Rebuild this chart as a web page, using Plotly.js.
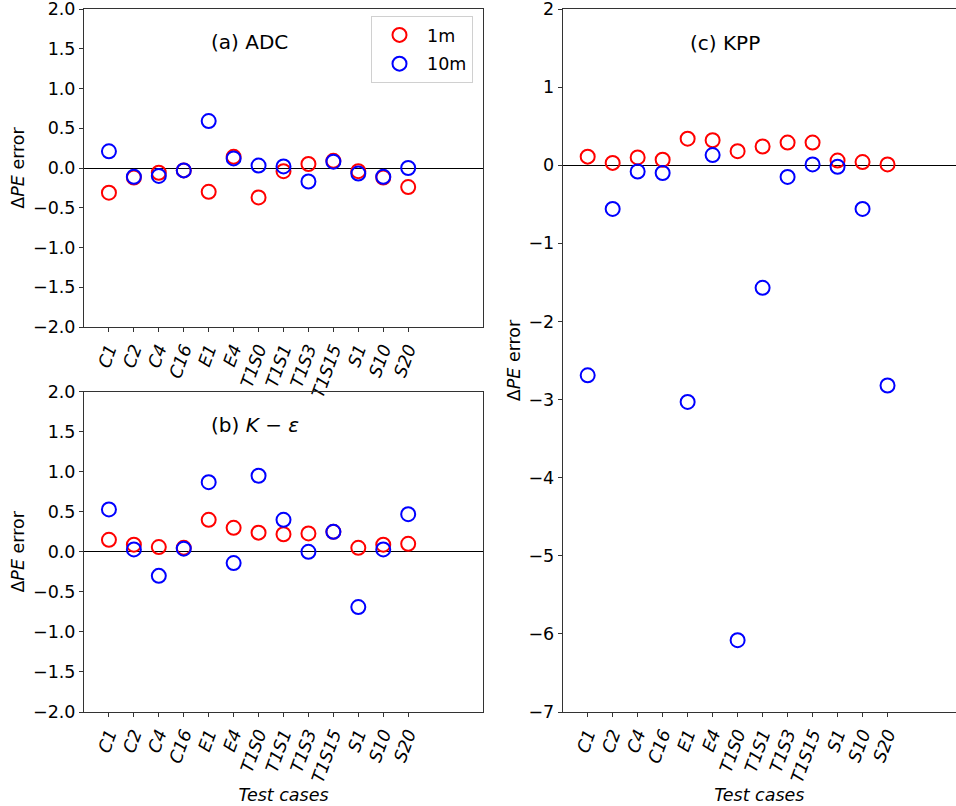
<!DOCTYPE html>
<html>
<head>
<meta charset="utf-8">
<script src="https://cdn.plot.ly/plotly-3.0.1.min.js"></script>
<style>html,body{margin:0;padding:0;background:#fff;}#chart{width:956px;height:806px;}</style>
</head>
<body>
<div id="chart"></div>
<script>
const categories = ['C1','C2','C4','C16','E1','E4','T1S0','T1S1','T1S3','T1S15','S1','S10','S20'];
const tickLabels = categories.map(c => '<i>' + c + '</i>');
const adc1m  = [-0.31,-0.12,-0.06,-0.03,-0.30,0.14,-0.37,-0.04,0.05,0.09,-0.04,-0.12,-0.24];
const adc10m = [0.21,-0.11,-0.10,-0.03,0.59,0.12,0.03,0.02,-0.17,0.08,-0.07,-0.11,0.00];
const ke1m   = [0.15,0.09,0.06,0.05,0.40,0.30,0.24,0.22,0.23,0.25,0.05,0.09,0.10];
const ke10m  = [0.53,0.03,-0.30,0.04,0.87,-0.14,0.95,0.40,0.00,0.25,-0.69,0.03,0.47];
const kpp1m  = [0.11,0.03,0.10,0.07,0.34,0.32,0.18,0.24,0.29,0.29,0.06,0.04,0.01];
const kpp10m = [-2.69,-0.56,-0.08,-0.10,-3.03,0.13,-6.08,-1.57,-0.15,0.01,-0.02,-0.56,-2.82];
const seriesNames = ['1m','10m'];
const seriesColors = ['#ff0000','#0000ff'];

const W = 956, H = 806;
const FONT = 'DejaVu Sans';
const FS = 17.5;
const SP = '#333';

function mk(y, i, xa, ya, show) {
  return {
    type: 'scatter', mode: 'markers', x: categories, y: y,
    xaxis: xa, yaxis: ya, name: seriesNames[i], showlegend: show, legendgroup: 'g' + i,
    marker: {symbol: 'circle-open', size: 14, color: seriesColors[i], line: {width: 2, color: seriesColors[i]}},
    hoverinfo: 'x+y'
  };
}
const data = [
  mk(adc1m, 0, 'x', 'y', true), mk(adc10m, 1, 'x', 'y', true),
  mk(ke1m, 0, 'x2', 'y2', false), mk(ke10m, 1, 'x2', 'y2', false),
  mk(kpp1m, 0, 'x3', 'y3', false), mk(kpp10m, 1, 'x3', 'y3', false)
];

function xax(dom, anchor, range, title) {
  const a = {
    domain: dom, anchor: anchor, type: 'category', categoryorder: 'array', categoryarray: categories,
    range: range, tickmode: 'array', tickvals: categories, ticktext: tickLabels, tickangle: -70,
    showgrid: false, zeroline: false, showline: true, linecolor: SP, linewidth: 1, mirror: true,
    ticks: 'outside', ticklen: 4, tickcolor: SP, tickfont: {family: FONT, size: FS, color: '#000'},
    ticklabeloverflow: 'allow', fixedrange: true
  };
  if (title) a.title = {text: '<i>Test cases</i>', font: {family: FONT, size: FS, color: '#000'}, standoff: 0};
  return a;
}
function yax(dom, anchor, range, dtick, fmt, mirror) {
  return {
    domain: dom, anchor: anchor, range: range, dtick: dtick, tick0: 0, tickformat: fmt,
    showgrid: false, zeroline: true, zerolinecolor: '#000', zerolinewidth: 1,
    showline: true, linecolor: SP, linewidth: 1, mirror: mirror,
    ticks: 'outside', ticklen: 4, tickcolor: SP, tickfont: {family: FONT, size: FS, color: '#000'},
    ticklabeloverflow: 'allow',
    title: {text: 'Δ<i>PE</i> error', font: {family: FONT, size: FS, color: '#000'}, standoff: 3},
    fixedrange: true
  };
}

const TOP = 9;
const xA = [84/W, 483/W];
const xC = [562.7/W, 1];
const yA = [(H-327)/H, (H-TOP)/H];
const yB = [(H-712)/H, (H-391.7)/H];
const yC = [(H-712)/H, (H-TOP)/H];

const layout = {
  width: W, height: H, margin: {l: 0, r: 0, t: 0, b: 0},
  paper_bgcolor: '#fff', plot_bgcolor: '#fff',
  font: {family: FONT, size: FS, color: '#000'},
  showlegend: true,
  legend: {x: 473/W, xanchor: 'right', y: (H-16)/H, yanchor: 'top', bgcolor: '#fff',
           bordercolor: '#d0d0d0', borderwidth: 1, font: {family: FONT, size: FS, color: '#000'},
           itemwidth: 45, tracegroupgap: 3, traceorder: 'grouped'},
  xaxis: xax(xA, 'y', [-1, 15], false),
  yaxis: yax(yA, 'x', [-2, 2], 0.5, '.1f', true),
  xaxis2: xax(xA, 'y2', [-1, 15], true),
  yaxis2: yax(yB, 'x2', [-2, 2], 0.5, '.1f', true),
  xaxis3: xax(xC, 'y3', [-1, 14.74], true),
  yaxis3: yax(yC, 'x3', [-7, 2], 1, 'd', false),
  annotations: [
    {xref: 'x', yref: 'y', x: 4, y: 1.58, xanchor: 'left', yanchor: 'middle', showarrow: false,
     text: '(a) ADC', font: {family: FONT, size: 20, color: '#000'}},
    {xref: 'x2', yref: 'y2', x: 4, y: 1.58, xanchor: 'left', yanchor: 'middle', showarrow: false,
     text: '(b) <i>K</i> − <i>ε</i>', font: {family: FONT, size: 20, color: '#000'}},
    {xref: 'x3', yref: 'y3', x: 4, y: 1.57, xanchor: 'left', yanchor: 'middle', showarrow: false,
     text: '(c) KPP', font: {family: FONT, size: 20, color: '#000'}}
  ]
};

Plotly.newPlot('chart', data, layout, {displayModeBar: false, staticPlot: true});
</script>
</body>
</html>
